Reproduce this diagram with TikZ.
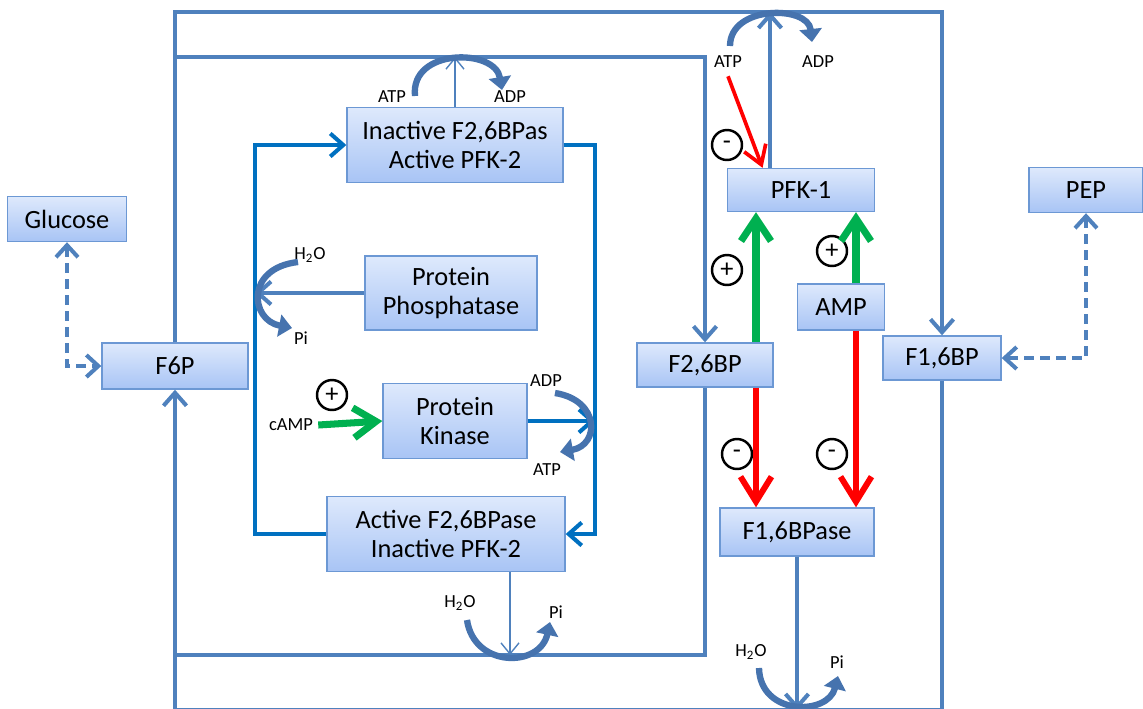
\documentclass[tikz,border=0pt]{standalone}
\usepackage{fontspec}
\setmainfont{Carlito}
\usetikzlibrary{arrows.meta}

\definecolor{lineblue}{RGB}{79,129,189}
\definecolor{sigblue}{RGB}{0,112,192}
\definecolor{curveblue}{RGB}{70,115,174}
\definecolor{boxtop}{RGB}{222,233,252}
\definecolor{boxbot}{RGB}{168,196,245}
\definecolor{boxline}{RGB}{108,152,212}
\definecolor{actgreen}{RGB}{0,176,80}
\definecolor{inhred}{RGB}{255,0,0}

\begin{document}
\begin{tikzpicture}[
  x=0.02cm, y=-0.02cm,
  box/.style={draw=boxline, line width=0.8pt, top color=boxtop, bottom color=boxbot,
    inner sep=0pt, align=center, font=\fontsize{15}{17}\selectfont},
  lbl/.style={inner sep=0pt, font=\fontsize{10.5}{12}\selectfont},
  sign/.style={circle, draw=black, line width=1.4pt, minimum size=0.6cm, inner sep=0pt,
    font=\fontsize{15}{15}\selectfont},
  flow/.style={draw=lineblue, line width=2.3pt, -{Straight Barb[length=2.6mm,width=4.6mm]}},
  plainflow/.style={draw=lineblue, line width=2.3pt},
  thinflow/.style={draw=lineblue, line width=0.8pt, -{Straight Barb[length=2.2mm,width=3.6mm]}},
  signal/.style={draw=sigblue, line width=2.3pt, -{Straight Barb[length=2.6mm,width=4.6mm]}},
  dashflow/.style={draw=lineblue, line width=2.3pt, dash pattern=on 2mm off 1.2mm,
    {Straight Barb[length=2.4mm,width=4.4mm]}-{Straight Barb[length=2.4mm,width=4.4mm]}},
  actarrow/.style={draw=actgreen, line width=4pt, -{Straight Barb[length=4.5mm,width=6mm]}},
  inharrow/.style={draw=inhred, line width=3.4pt, -{Straight Barb[length=5mm,width=6.2mm]}},
  inhthin/.style={draw=inhred, line width=2.1pt, -{Straight Barb[length=3.6mm,width=4.6mm]}},
  cofactor/.style={draw=curveblue, line width=3.6pt, -{Triangle[length=2.6mm,width=4.4mm]}}
]
\clip (0,0) rectangle (1143,708);

% metabolites and enzymes
\node[box, minimum width=2.38cm, minimum height=0.9cm] (glucose) at (67,219) {Glucose};
\node[box, minimum width=2.92cm, minimum height=0.92cm] (f6p) at (175,366) {F6P};
\node[box, minimum width=4.32cm, minimum height=1.5cm] (inact) at (455,145) {Inactive F2,6BPas\\Active PFK-2};
\node[box, minimum width=3.44cm, minimum height=1.48cm] (phos) at (451,293) {Protein\\Phosphatase};
\node[box, minimum width=2.88cm, minimum height=1.5cm] (kin) at (455,421) {Protein\\Kinase};
\node[box, minimum width=4.76cm, minimum height=1.5cm] (act) at (446,534) {Active F2,6BPase\\Inactive PFK-2};
\node[box, minimum width=2.94cm, minimum height=0.86cm] (pfk1) at (801,190) {PFK-1};
\node[box, minimum width=2.28cm, minimum height=0.9cm] (pep) at (1086,190) {PEP};
\node[box, minimum width=1.74cm, minimum height=0.92cm] (amp) at (841,307) {AMP};
\node[box, minimum width=2.72cm, minimum height=0.88cm] (f26bp) at (705,365) {F2,6BP};
\node[box, minimum width=2.36cm, minimum height=0.88cm] (f16bp) at (942,358) {F1,6BP};
\node[box, minimum width=3.08cm, minimum height=0.96cm] (f16bpase) at (797,532) {F1,6BPase};

% small labels
\node[lbl] (atp1) at (392,97) {ATP};
\node[lbl] (adp1) at (510,97) {ADP};
\node[lbl] (h2o1) at (310,255) {H\textsubscript{2}O};
\node[lbl] (pi1) at (301,338) {Pi};
\node[lbl] (camp) at (291,425) {cAMP};
\node[lbl] (adp2) at (546,381) {ADP};
\node[lbl] (atp2) at (547,470) {ATP};
\node[lbl] (h2o2) at (460,603) {H\textsubscript{2}O};
\node[lbl] (pi2) at (556,612) {Pi};
\node[lbl] (atp3) at (728,62) {ATP};
\node[lbl] (adp3) at (818,62) {ADP};
\node[lbl] (h2o3) at (751,652) {H\textsubscript{2}O};
\node[lbl] (pi3) at (837,662) {Pi};

% effector signs
\node[sign] (pcamp) at (332,395) {+};
\node[sign] (matp) at (727,145) {-};
\node[sign] (pf26) at (727,270) {+};
\node[sign] (pamp) at (832,251) {+};
\node[sign] (mf26) at (737,454) {-};
\node[sign] (mamp) at (832,454) {-};

% helper coordinates
\coordinate (otop) at (0,12);
\coordinate (obot) at (0,710);
\coordinate (itop) at (0,57);
\coordinate (ibot) at (0,655);
\coordinate (sigl) at (255,0);
\coordinate (sigr) at (595,0);
\coordinate (pfkup) at (770,12);
\coordinate (hydro) at (510,655);
\coordinate (gx1) at (756,0);
\coordinate (gx2) at (856,0);

% main cycles
\draw[flow] (f6p.north) |- (f16bp.north |- otop) -- (f16bp.north);
\draw[flow] (f16bp.south) |- (f6p.south |- obot) -- (f6p.south);
\draw[flow] (f16bpase.south) -- (f16bpase.south |- obot);
\draw[flow] (pfk1.north -| pfkup) -- (pfkup);
\draw[flow] (f6p.north) |- (f26bp.north |- itop) -- (f26bp.north);
\draw[plainflow] (f26bp.south) |- (f6p.south |- ibot);
\draw[thinflow] (inact.north) -- (inact.north |- itop);
\draw[thinflow] (act.south -| hydro) -- (hydro);

% bifunctional enzyme switch
\draw[signal] (inact.east) -- (inact.east -| sigr) |- (act.east);
\draw[signal] (act.west) -- (act.west -| sigl) |- (inact.west);
\draw[flow] (phos.west) -- (phos.west -| sigl);
\draw[signal] (kin.east) -- (kin.east -| sigr);
\draw[actarrow] (camp.east) ++(5,0) -- (kin.west);

% cofactor arcs
\draw[cofactor] (415,96) .. controls (410,48) and (495,48) .. (502,90);
\draw[cofactor] (298,262) .. controls (245,268) and (250,320) .. (292,328);
\draw[cofactor] (555,393) .. controls (600,400) and (600,445) .. (560,452);
\draw[cofactor] (467,620) .. controls (474,668) and (540,668) .. (550,622);
\draw[cofactor] (730,46) .. controls (730,5) and (808,5) .. (812,42);
\draw[cofactor] (759,668) .. controls (760,716) and (828,716) .. (838,676);

% regulation of PFK-1 and F1,6BPase
\draw[inhthin] (atp3.south) ++(0,8) -- (pfk1.150);
\draw[actarrow] (f26bp.north -| gx1) -- (pfk1.south -| gx1);
\draw[actarrow] (amp.north -| gx2) -- (pfk1.south -| gx2);
\draw[inharrow] (f26bp.south -| gx1) -- (f16bpase.north -| gx1);
\draw[inharrow] (amp.south -| gx2) -- (f16bpase.north -| gx2);

% entry and exit
\draw[dashflow] (glucose.south) |- (f6p.west);
\draw[dashflow] (pep.south) |- (f16bp.east);
\end{tikzpicture}
\end{document}
